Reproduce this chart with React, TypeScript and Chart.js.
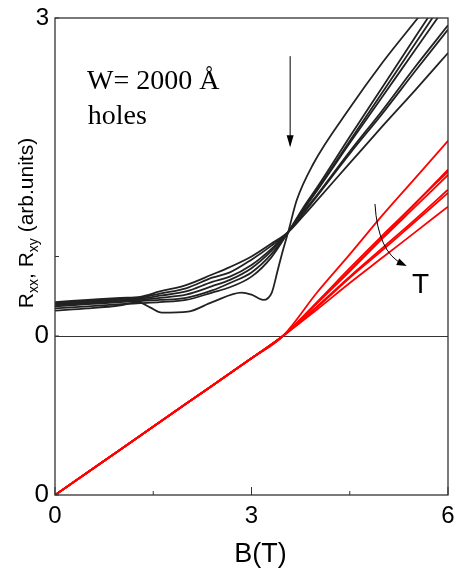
import React, { useEffect, useRef } from "react";
import { Chart, registerables } from "chart.js";

Chart.register(...registerables);

// ---- Longitudinal resistance Rxx (upper panel, zero on the middle line) ----
// Lowest temperature: sampled more densely to follow its wiggles.
const FIELD_T_LOWEST = [0, 0.5, 1.0, 1.27, 1.45, 1.63, 2.03, 2.4, 2.85, 3.0, 3.18, 3.31, 3.4, 3.48, 3.56, 3.69, 3.94, 4.5, 5.0, 5.54, 6.0];
const RXX_T1 = [0.24, 0.26, 0.29, 0.32, 0.27, 0.22, 0.23, 0.32, 0.41, 0.39, 0.34, 0.41, 0.62, 0.81, 0.98, 1.28, 1.62, 2.15, 2.58, 3.0, 3.36];

// Higher temperatures share one field grid.
const FIELD_T = [0, 0.5, 1.0, 1.3, 1.6, 2.0, 2.4, 2.67, 3.0, 3.3, 3.56, 3.8, 4.0, 4.5, 5.0, 5.5, 6.0];
const RXX_T2 = [0.26, 0.28, 0.3, 0.31, 0.32, 0.34, 0.41, 0.46, 0.56, 0.74, 0.98, 1.22, 1.4, 1.88, 2.35, 2.82, 3.29];
const RXX_T3 = [0.28, 0.3, 0.32, 0.33, 0.34, 0.36, 0.43, 0.5, 0.6, 0.77, 0.98, 1.21, 1.38, 1.84, 2.3, 2.76, 3.22];
const RXX_T4 = [0.29, 0.31, 0.33, 0.34, 0.36, 0.39, 0.47, 0.53, 0.64, 0.8, 0.98, 1.2, 1.37, 1.82, 2.26, 2.7, 3.14];
const RXX_T5 = [0.3, 0.32, 0.34, 0.35, 0.38, 0.42, 0.51, 0.56, 0.67, 0.82, 0.98, 1.18, 1.33, 1.74, 2.13, 2.54, 2.93];
const RXX_T6 = [0.31, 0.33, 0.35, 0.36, 0.4, 0.45, 0.55, 0.6, 0.72, 0.85, 0.98, 1.16, 1.32, 1.72, 2.1, 2.5, 2.89];
const RXX_T7 = [0.32, 0.34, 0.36, 0.37, 0.42, 0.48, 0.58, 0.65, 0.75, 0.87, 0.98, 1.14, 1.28, 1.63, 1.98, 2.32, 2.67];

// ---- Hall resistance Rxy (lower panel, zero at the bottom of the frame) ----
const FIELD_T_HALL = [0, 1, 2, 3, 3.48, 4.0, 4.5, 5.0, 5.5, 6.0];
const RXY_T1 = [0, 0.43, 0.86, 1.29, 1.5, 1.91, 2.27, 2.64, 2.99, 3.34];
const RXY_T2 = [0, 0.43, 0.86, 1.29, 1.5, 1.82, 2.14, 2.45, 2.75, 3.07];
const RXY_T3 = [0, 0.43, 0.86, 1.29, 1.5, 1.81, 2.12, 2.43, 2.75, 3.05];
const RXY_T4 = [0, 0.43, 0.86, 1.29, 1.5, 1.81, 2.11, 2.42, 2.72, 3.02];
const RXY_T5 = [0, 0.43, 0.86, 1.29, 1.5, 1.78, 2.06, 2.33, 2.6, 2.88];
const RXY_T6 = [0, 0.43, 0.86, 1.29, 1.5, 1.77, 2.05, 2.31, 2.58, 2.85];
const RXY_T7 = [0, 0.43, 0.86, 1.29, 1.5, 1.75, 2.0, 2.24, 2.48, 2.72];

// Rxy is stacked below Rxx on the same vertical axis; its zero sits here.
const RXY_ZERO = -1.5;

const Y_TICK_VALUES = [-1.5, 0, 0.75, 3];
const Y_TICK_LABELS = ["0", "0", "", "3"];
const X_TICK_VALUES = [0, 1.5, 3, 4.5, 6];
const X_TICK_LABELS = ["0", "", "3", "", "6"];

const SANS = "'Liberation Sans', Arial, sans-serif";
const SERIF = "'Liberation Serif', 'Times New Roman', serif";
const BLACK = "#222222";
const RED = "#ff0000";

const toPoints = (xs: number[], ys: number[], offset = 0) =>
  xs.map((x, i) => ({ x, y: ys[i] + offset }));

const arrowHead = (
  ctx: CanvasRenderingContext2D,
  tipX: number,
  tipY: number,
  dx: number,
  dy: number,
  len: number,
  half: number
) => {
  const n = Math.hypot(dx, dy);
  const ux = dx / n;
  const uy = dy / n;
  const bx = tipX - ux * len;
  const by = tipY - uy * len;
  ctx.beginPath();
  ctx.moveTo(tipX, tipY);
  ctx.lineTo(bx - uy * half, by + ux * half);
  ctx.lineTo(bx + uy * half, by - ux * half);
  ctx.closePath();
  ctx.fill();
};

const decorations = {
  id: "decorations",
  afterDatasetsDraw(chart: any) {
    const { ctx, chartArea } = chart;
    const xs = chart.scales.x;
    const ys = chart.scales.y;
    const px = (v: number) => xs.getPixelForValue(v);
    const py = (v: number) => ys.getPixelForValue(v);
    ctx.save();

    // frame
    ctx.strokeStyle = "#333";
    ctx.lineWidth = 1.3;
    ctx.strokeRect(chartArea.left, chartArea.top, chartArea.right - chartArea.left, chartArea.bottom - chartArea.top);

    // inward tick marks
    ctx.lineWidth = 1;
    X_TICK_VALUES.forEach((v) => {
      const x = px(v);
      const len = v % 3 === 0 ? 8 : 4;
      ctx.beginPath();
      ctx.moveTo(x, chartArea.bottom);
      ctx.lineTo(x, chartArea.bottom - len);
      ctx.stroke();
    });
    Y_TICK_VALUES.forEach((v) => {
      const y = py(v);
      ctx.beginPath();
      ctx.moveTo(chartArea.left, y);
      ctx.lineTo(chartArea.left + 4, y);
      ctx.stroke();
    });

    ctx.fillStyle = "#000";
    ctx.strokeStyle = "#000";

    // sample description
    ctx.font = `28px ${SERIF}`;
    ctx.textAlign = "left";
    ctx.textBaseline = "alphabetic";
    ctx.fillText("W= 2000 Å", px(0.49), py(2.33));
    ctx.fillText("holes", px(0.5), py(2.0));

    // arrow pointing at the crossing field
    ctx.lineWidth = 1;
    const ax = px(3.59);
    ctx.beginPath();
    ctx.moveTo(ax, py(2.64));
    ctx.lineTo(ax, py(1.8));
    ctx.stroke();
    arrowHead(ctx, ax, py(1.78), 0, 1, 12, 3.5);

    // curved arrow: increasing temperature
    const sx = px(4.885), sy = py(1.245);
    const cx = px(4.93), cy = py(0.79);
    const ex = px(5.37), ey = py(0.66);
    ctx.beginPath();
    ctx.moveTo(sx, sy);
    ctx.quadraticCurveTo(cx, cy, ex - 4, ey - 2);
    ctx.stroke();
    arrowHead(ctx, ex, ey, ex - cx, ey - cy, 10, 3.5);

    ctx.font = `28px ${SANS}`;
    ctx.fillText("T", px(5.45), py(0.41));

    // x-axis title
    ctx.font = `27px ${SANS}`;
    ctx.textAlign = "center";
    ctx.fillText("B(T)", (chartArea.left + chartArea.right) / 2 + 9, 562);

    // y-axis title with subscripts
    const parts: [string, boolean][] = [
      ["R", false],
      ["xx", true],
      [", R", false],
      ["xy", true],
      [" (arb.units)", false],
    ];
    const mainFont = `21px ${SANS}`;
    const subFont = `14px ${SANS}`;
    let total = 0;
    parts.forEach(([t, sub]) => {
      ctx.font = sub ? subFont : mainFont;
      total += ctx.measureText(t).width;
    });
    ctx.translate(33, 223);
    ctx.rotate(-Math.PI / 2);
    ctx.textAlign = "left";
    let x = -total / 2;
    parts.forEach(([t, sub]) => {
      ctx.font = sub ? subFont : mainFont;
      ctx.fillText(t, x, sub ? 5 : 0);
      x += ctx.measureText(t).width;
    });
    ctx.restore();
  },
};

export default function App() {
  const canvasRef = useRef<HTMLCanvasElement | null>(null);

  useEffect(() => {
    if (!canvasRef.current) return;
    const line = (data: { x: number; y: number }[], color: string) => ({
      data,
      borderColor: color,
      borderWidth: 1.8,
      pointRadius: 0,
      fill: false,
      cubicInterpolationMode: "monotone" as const,
    });

    const chart = new Chart(canvasRef.current, {
      type: "line",
      data: {
        datasets: [
          line(toPoints(FIELD_T_HALL, RXY_T1, RXY_ZERO), RED),
          line(toPoints(FIELD_T_HALL, RXY_T2, RXY_ZERO), RED),
          line(toPoints(FIELD_T_HALL, RXY_T3, RXY_ZERO), RED),
          line(toPoints(FIELD_T_HALL, RXY_T4, RXY_ZERO), RED),
          line(toPoints(FIELD_T_HALL, RXY_T5, RXY_ZERO), RED),
          line(toPoints(FIELD_T_HALL, RXY_T6, RXY_ZERO), RED),
          line(toPoints(FIELD_T_HALL, RXY_T7, RXY_ZERO), RED),
          line(toPoints(FIELD_T_LOWEST, RXX_T1), BLACK),
          line(toPoints(FIELD_T, RXX_T2), BLACK),
          line(toPoints(FIELD_T, RXX_T3), BLACK),
          line(toPoints(FIELD_T, RXX_T4), BLACK),
          line(toPoints(FIELD_T, RXX_T5), BLACK),
          line(toPoints(FIELD_T, RXX_T6), BLACK),
          line(toPoints(FIELD_T, RXX_T7), BLACK),
        ],
      },
      options: {
        responsive: false,
        animation: false,
        layout: { padding: { left: 0, top: 18, right: 7, bottom: 0 } },
        plugins: { legend: { display: false }, tooltip: { enabled: false } },
        scales: {
          x: {
            type: "linear",
            min: 0,
            max: 6,
            afterBuildTicks: (s: any) => {
              s.ticks = X_TICK_VALUES.map((value) => ({ value }));
            },
            afterFit: (s: any) => {
              s.height = 79;
              s.paddingLeft = 0;
              s.paddingRight = 0;
            },
            ticks: {
              autoSkip: false,
              maxRotation: 0,
              padding: 7,
              color: "#000",
              font: { family: SANS, size: 24 },
              callback: (v: any) => X_TICK_LABELS[X_TICK_VALUES.indexOf(Number(v))] ?? "",
            },
            grid: { drawOnChartArea: false, drawTicks: false },
            border: { display: false },
          },
          y: {
            type: "linear",
            min: -1.5,
            max: 3,
            afterBuildTicks: (s: any) => {
              s.ticks = Y_TICK_VALUES.map((value) => ({ value }));
            },
            afterFit: (s: any) => {
              s.width = 55;
              s.paddingTop = 0;
              s.paddingBottom = 0;
            },
            ticks: {
              autoSkip: false,
              padding: 6,
              color: "#000",
              font: (c: any) => ({ family: SANS, size: c.tick && c.tick.value === 3 ? 24 : 26 }),
              callback: (v: any) => Y_TICK_LABELS[Y_TICK_VALUES.indexOf(Number(v))] ?? "",
            },
            grid: {
              drawTicks: false,
              lineWidth: 1,
              color: (c: any) => (c.tick && c.tick.value === 0 ? "#333" : "rgba(0,0,0,0)"),
            },
            border: { display: false },
          },
        },
      },
      plugins: [decorations],
    });
    return () => chart.destroy();
  }, []);

  return (
    <div style={{ position: "absolute", left: 0, top: 0, width: 455, height: 574, background: "#fff" }}>
      <canvas ref={canvasRef} width={455} height={574} />
    </div>
  );
}
